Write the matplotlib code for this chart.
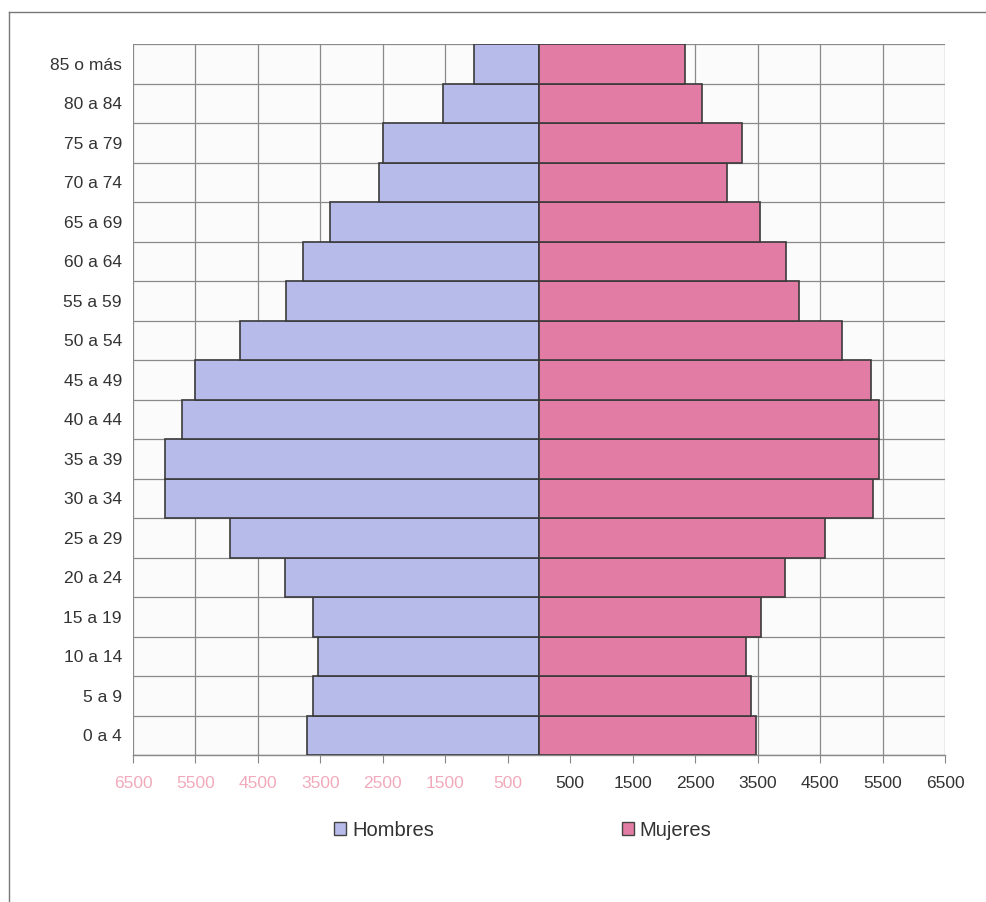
import matplotlib
matplotlib.use("Agg")
import matplotlib.pyplot as plt
from matplotlib.lines import Line2D
from matplotlib.patches import Patch
from matplotlib import font_manager

age_groups = ["0 a 4", "5 a 9", "10 a 14", "15 a 19", "20 a 24", "25 a 29",
              "30 a 34", "35 a 39", "40 a 44", "45 a 49", "50 a 54", "55 a 59",
              "60 a 64", "65 a 69", "70 a 74", "75 a 79", "80 a 84", "85 o más"]
hombres = [3720, 3620, 3540, 3620, 4060, 4950, 5980, 5980, 5710, 5510,
           4790, 4050, 3775, 3350, 2565, 2495, 1540, 1035]
mujeres = [3477, 3397, 3322, 3557, 3935, 4571, 5345, 5451, 5451, 5318,
           4854, 4160, 3962, 3546, 3012, 3242, 2612, 2335]
tick_values = [-6500, -5500, -4500, -3500, -2500, -1500, -500,
               500, 1500, 2500, 3500, 4500, 5500, 6500]
tick_labels = ["6500", "5500", "4500", "3500", "2500", "1500", "500",
               "500", "1500", "2500", "3500", "4500", "5500", "6500"]

names = {f.name for f in font_manager.fontManager.ttflist}
narrow = "Liberation Sans Narrow" if "Liberation Sans Narrow" in names else "Liberation Sans"
plt.rcParams['font.family'] = ['Liberation Sans', 'DejaVu Sans']

W, H = 987, 902
fig = plt.figure(figsize=(W / 100, H / 100), dpi=100)
fig.patch.set_facecolor("white")

ax = fig.add_axes([133 / W, 1 - 755 / H, (945 - 133) / W, (755 - 44) / H])
ax.set_facecolor("#fbfbfb")

c_h = "#b7bbe9"
c_m = "#e27ca4"
edge = "#3a3a3a"
y = list(range(len(age_groups)))

ax.barh(y, [-v for v in hombres], height=1.0, color=c_h, edgecolor=edge,
        linewidth=1.2, zorder=3)
ax.barh(y, mujeres, height=1.0, color=c_m, edgecolor=edge,
        linewidth=1.2, zorder=3)

ax.set_xlim(-6500, 6500)
ax.set_ylim(-0.5, len(age_groups) - 0.5)

# grid
for xv in tick_values:
    ax.axvline(xv, color="#8a8a8a", linewidth=0.9, zorder=1)
for k in range(len(age_groups) + 1):
    ax.axhline(k - 0.5, color="#8a8a8a", linewidth=0.9, zorder=1)

ax.set_xticks(tick_values)
ax.set_xticklabels(tick_labels, fontsize=12.5, family=[narrow, 'DejaVu Sans'])
for lbl, v in zip(ax.get_xticklabels(), tick_values):
    lbl.set_color("#f2aabb" if v < 0 else "#333333")
ax.tick_params(axis="x", length=6, color="#888888", pad=9)

ax.set_yticks(y)
ax.set_yticklabels(age_groups, fontsize=12.5, color="#333333")
ax.tick_params(axis="y", length=0, pad=8)

for s in ["top", "right", "left"]:
    ax.spines[s].set_visible(False)
ax.spines["bottom"].set_color("#888888")
ax.spines["bottom"].set_linewidth(1.0)

handles = [Patch(facecolor=c_h, edgecolor="#444444", linewidth=1.0),
           Patch(facecolor=c_m, edgecolor="#444444", linewidth=1.0)]
fig.legend(handles, ["Hombres", "Mujeres"], loc="center",
           bbox_to_anchor=(523 / W, 1 - 830 / H), ncol=2, frameon=False,
           fontsize=14.5, handlelength=0.6, handleheight=0.6, handletextpad=0.3,
           columnspacing=9.3, labelcolor="#333333")

# outer frame
fig.add_artist(Line2D([9 / W, 1.0], [1 - 12 / H, 1 - 12 / H],
                      transform=fig.transFigure, color="#777777", linewidth=1.0))
fig.add_artist(Line2D([9 / W, 9 / W], [0, 1 - 12 / H],
                      transform=fig.transFigure, color="#777777", linewidth=1.0))

fig.savefig("out.png", dpi=100, facecolor="white")
